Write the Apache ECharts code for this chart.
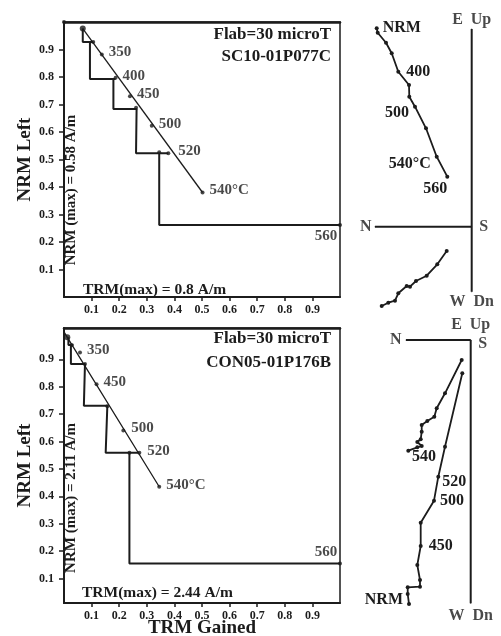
<!DOCTYPE html>
<html><head><meta charset="utf-8">
<script src="https://cdn.jsdelivr.net/npm/echarts@6/dist/echarts.min.js"></script>
<style>html,body{margin:0;padding:0;background:#fff}#c{width:501px;height:636px}</style>
</head><body><div id="c"></div>
<script>
// ---------- tick labels ----------
const araiTicks = [0.1,0.2,0.3,0.4,0.5,0.6,0.7,0.8,0.9];

// ---------- top Arai plot (SC10-01P077C) ----------
const topPoints = [[0,1.0],[0.068,0.976],[0.106,0.927],[0.137,0.882],[0.187,0.797],[0.239,0.730],[0.261,0.688],[0.318,0.623],[0.345,0.526],[0.378,0.523],[0.502,0.380],[1.0,0.262]];
const topPointLabels = ['','','','350','400','450','','500','','520','540°C','560'];
const topFitLine = [[0.068,0.976],[0.502,0.380]];
const topCheckPath = [[0.068,0.976],[0.068,0.927],[0.106,0.927],[0.094,0.927],[0.094,0.793],[0.187,0.793],[0.179,0.793],[0.179,0.684],[0.263,0.684],[0.261,0.684],[0.261,0.523],[0.378,0.523],[0.345,0.523],[0.345,0.262],[1.0,0.262]];
const topFlab = 'Flab=30 microT';
const topSample = 'SC10-01P077C';
const topNrmMax = 'NRM (max) = 0.58 A/m';
const topTrmMax = 'TRM(max) = 0.8 A/m';

// ---------- bottom Arai plot (CON05-01P176B) ----------
const botPoints = [[0.012,0.980],[0.028,0.952],[0.058,0.925],[0.076,0.883],[0.118,0.809],[0.157,0.729],[0.215,0.640],[0.237,0.559],[0.273,0.559],[0.345,0.435],[1.0,0.155]];
const botPointLabels = ['','','350','','450','','500','','520','540°C','560'];
const botFitLine = [[0,1.0],[0.012,0.980],[0.345,0.435]];
const botCheckPath = [[0.016,0.980],[0.016,0.952],[0.034,0.952],[0.025,0.952],[0.025,0.883],[0.076,0.883],[0.072,0.883],[0.072,0.730],[0.157,0.730],[0.151,0.730],[0.151,0.559],[0.273,0.559],[0.237,0.559],[0.237,0.155],[1.0,0.155]];
const botFlab = 'Flab=30 microT';
const botSample = 'CON05-01P176B';
const botNrmMax = 'NRM (max) = 2.11 A/m';
const botTrmMax = 'TRM(max) = 2.44 A/m';

// ---------- top Zijderveld (relative units) ----------
const zijTopVert = [[-0.95,1.984],[-0.94,1.94],[-0.857,1.84],[-0.80,1.734],[-0.734,1.55],[-0.627,1.417],[-0.624,1.30],[-0.567,1.20],[-0.457,0.984],[-0.35,0.70],[-0.244,0.50]];
const zijTopVertLabels = ['NRM','','','','400','','','500','','540°C','560'];
const zijTopHoriz = [[-0.90,-0.793],[-0.834,-0.76],[-0.767,-0.74],[-0.734,-0.666],[-0.65,-0.593],[-0.617,-0.60],[-0.557,-0.543],[-0.45,-0.49],[-0.344,-0.376],[-0.25,-0.243]];
const zijTopNS = [[-0.967,0],[0,0]];
const zijTopUD = [[0,1.977],[0,-0.65]];

// ---------- bottom Zijderveld (relative units) ----------
const zijBotA = [[-0.09,-0.20],[-0.257,-0.533],[-0.34,-0.683],[-0.364,-0.767],[-0.434,-0.81],[-0.49,-0.85],[-0.49,-0.917],[-0.50,-0.993],[-0.534,-1.02],[-0.49,-1.06],[-0.534,-1.073],[-0.624,-1.107]];
const zijBotB = [[-0.617,-2.64],[-0.63,-2.54],[-0.63,-2.473],[-0.507,-2.467],[-0.507,-2.40],[-0.534,-2.25],[-0.50,-2.06],[-0.50,-1.827],[-0.367,-1.607],[-0.324,-1.367],[-0.257,-1.067],[-0.084,-0.333]];
const zijBotBLabels = ['NRM','','','','','','450','','500','520','540',''];
const zijBotNS = [[-0.647,0],[0,0]];
const zijBotUD = [[0,0],[0,-2.633]];

const axisNames = {N:'N', S:'S', up:'E  Up', dn:'W  Dn'};

// ---------- styling / building ----------
const FONT = '"Liberation Serif", "DejaVu Serif", serif';
const INK = '#1c1c1c';

function lbl(text, pos, size) {
  if (!text) return {show:false};
  return Object.assign({show:true, formatter:text, color:INK, fontFamily:FONT, fontWeight:'bold', fontSize:size||15}, pos);
}

const araiDefault = {position:'right', distance:5, offset:[0,-2]};
const topLabelPos = {'560':{position:'bottom', distance:2, offset:[-14,0]}, '520':{position:'right', distance:8, offset:[0,-2]}};
const botLabelPos = {'560':{position:'top', distance:2, offset:[-14,0]}, '500':{position:'right', distance:6, offset:[0,-2]}, '520':{position:'right', distance:6, offset:[0,-2]}};
const zijTopPos = {
  'NRM':{position:'right', distance:4},
  '400':{position:'right', distance:6},
  '500':{position:'left', distance:4, offset:[0,6]},
  '540°C':{position:'left', distance:4, offset:[0,7]},
  '560':{position:'bottom', distance:2, offset:[-12,0]}
};
const zijBotPos = {
  'NRM':{position:'left', distance:4, offset:[0,-4]},
  '450':{position:'right', distance:6},
  '500':{position:'right', distance:4},
  '520':{position:'right', distance:2, offset:[0,5]},
  '540':{position:'left', distance:7, offset:[0,10]}
};

function araiAxes(gridIndex, yMin, yMax, withName) {
  const common = {gridIndex, type:'value', splitLine:{show:false}};
  const x = Object.assign({}, common, {
    min:0, max:1, position:'bottom',
    axisLine:{show:true, onZero:false, lineStyle:{color:INK, width:2}},
    axisTick:{show:true, length:4, customValues:araiTicks, lineStyle:{color:INK, width:1.5}},
    axisLabel:{show:true, customValues:araiTicks, margin:7, formatter:v=>v.toFixed(1), color:INK, fontFamily:FONT, fontWeight:'bold', fontSize:12},
  });
  if (withName) Object.assign(x, {name:'TRM Gained', nameLocation:'middle', nameGap:16, nameMoveOverlap:false,
    nameTextStyle:{color:INK, fontFamily:FONT, fontWeight:'bold', fontSize:19}});
  const xTop = Object.assign({}, common, {
    min:0, max:1, position:'top',
    axisLine:{show:true, onZero:false, lineStyle:{color:INK, width:2.5}},
    axisTick:{show:false}, axisLabel:{show:false}
  });
  const y = Object.assign({}, common, {
    min:yMin, max:yMax, position:'left',
    axisLine:{show:true, onZero:false, lineStyle:{color:INK, width:2}},
    axisTick:{show:true, length:5, customValues:araiTicks, lineStyle:{color:INK, width:1.5}},
    axisLabel:{show:true, customValues:araiTicks, margin:10, formatter:v=>v.toFixed(1), color:INK, fontFamily:FONT, fontWeight:'bold', fontSize:12},
    name:'NRM Left', nameLocation:'middle', nameGap:29, nameMoveOverlap:false,
    nameTextStyle:{color:INK, fontFamily:FONT, fontWeight:'bold', fontSize:19}
  });
  return {x, xTop, y};
}

const a0 = araiAxes(0, 0, 1, false);
const a1 = araiAxes(1, 0.011, 1.014, true);
const hidden = {type:'value', show:false, splitLine:{show:false}};

function araiSeries(xi, yi, points, labels, posMap, fit, check) {
  return [
    {type:'line', xAxisIndex:xi, yAxisIndex:yi, data:check, symbol:'none', silent:true, clip:false,
     lineStyle:{color:INK, width:2}, z:3},
    {type:'line', xAxisIndex:xi, yAxisIndex:yi, data:fit, symbol:'none', silent:true, clip:false,
     lineStyle:{color:INK, width:1.3}, z:3},
    {type:'scatter', xAxisIndex:xi, yAxisIndex:yi, clip:false, z:5,
     symbolSize:(v,p)=> (points[p.dataIndex][0] > 0 && p.dataIndex === (xi===0?1:0)) ? 6 : 4,
     itemStyle:{color:INK},
     data: points.map((p,i)=>({value:p, label:lbl(labels[i], posMap[labels[i]] || araiDefault, 15)}))}
  ];
}

function zijLine(xi, yi, pts, labels, posMap) {
  return {type:'line', xAxisIndex:xi, yAxisIndex:yi, clip:false, symbol:'circle', symbolSize:4, showSymbol:true,
    lineStyle:{color:INK, width:1.8}, itemStyle:{color:INK}, z:4,
    data: pts.map((p,i)=>({value:p, label: labels ? lbl(labels[i], posMap[labels[i]] || {position:'right'}, 16) : {show:false}}))};
}
function zijAxes(xi, yi, ns, ud, o) {
  return [
    {type:'line', xAxisIndex:xi, yAxisIndex:yi, data:ns, symbol:'none', clip:false, lineStyle:{color:INK, width:2}},
    {type:'line', xAxisIndex:xi, yAxisIndex:yi, data:ud, symbol:'none', clip:false, lineStyle:{color:INK, width:2}},
    {type:'scatter', xAxisIndex:xi, yAxisIndex:yi, clip:false, symbolSize:1, itemStyle:{color:INK},
     data:[
       {value:ns[0], label:lbl(axisNames.N, {position:'left', distance:o.n}, 16)},
       {value:ns[1], label:lbl(axisNames.S, {position:'right', distance:o.s, offset:[0, o.sy]}, 16)},
       {value:ud[0], label:lbl(axisNames.up, {position:'top', distance:o.up}, 16)},
       {value:ud[1], label:lbl(axisNames.dn, {position:'bottom', distance:o.dn}, 16)}
     ]}
  ];
}

function gtext(x, y, text, size, align, rot) {
  return {type:'text', x, y, rotation: rot||0, z:10,
    style:{text, fill:INK, font:'bold '+size+'px '+FONT, fontSize:size, fontWeight:'bold', fontFamily:FONT,
      align:align, textAlign:align, verticalAlign:'middle', textVerticalAlign:'middle'}};
}

const option = {
  animation:false,
  backgroundColor:'#fff',
  textStyle:{fontFamily:FONT},
  grid:[
    {left:64, top:22, width:276, height:275, show:true, borderColor:INK, borderWidth:1.5, containLabel:false, outerBoundsMode:'none'},
    {left:64, top:328, width:276, height:275, show:true, borderColor:INK, borderWidth:1.5, containLabel:false, outerBoundsMode:'none'},
    {left:360, top:20, width:140, height:290, containLabel:false, outerBoundsMode:'none'},
    {left:360, top:318, width:140, height:300, containLabel:false, outerBoundsMode:'none'}
  ],
  xAxis:[a0.x, a0.xTop, a1.x, a1.xTop,
    Object.assign({gridIndex:2, min:-1.117, max:0.283}, hidden),
    Object.assign({gridIndex:3, min:-1.107, max:0.293}, hidden)],
  yAxis:[a0.y, a1.y,
    Object.assign({gridIndex:2, min:-0.833, max:2.067}, hidden),
    Object.assign({gridIndex:3, min:-2.78, max:0.22}, hidden)],
  series:[
    ...araiSeries(0, 0, topPoints, topPointLabels, topLabelPos, topFitLine, topCheckPath),
    ...araiSeries(2, 1, botPoints, botPointLabels, botLabelPos, botFitLine, botCheckPath),
    ...zijAxes(4, 2, zijTopNS, zijTopUD, {n:3, s:7, sy:0, up:1, dn:2}),
    zijLine(4, 2, zijTopVert, zijTopVertLabels, zijTopPos),
    zijLine(4, 2, zijTopHoriz, null, {}),
    ...zijAxes(5, 3, zijBotNS, zijBotUD, {n:4, s:7, sy:4, up:7, dn:4}),
    zijLine(5, 3, zijBotA, null, {}),
    zijLine(5, 3, zijBotB, zijBotBLabels, zijBotPos)
  ],
  graphic:[
    gtext(331, 35, topFlab, 17, 'right'),
    gtext(331, 57, topSample, 17, 'right'),
    gtext(83, 290, topTrmMax, 15.5, 'left'),
    gtext(71, 190, topNrmMax, 15, 'center', Math.PI/2),
    gtext(331, 339, botFlab, 17, 'right'),
    gtext(331, 363, botSample, 17, 'right'),
    gtext(82, 593, botTrmMax, 15.5, 'left'),
    gtext(71, 498, botNrmMax, 15, 'center', Math.PI/2)
  ]
};

const chart = echarts.init(document.getElementById('c'), null, {renderer:'canvas'});
chart.setOption(option);
</script>
</body></html>
